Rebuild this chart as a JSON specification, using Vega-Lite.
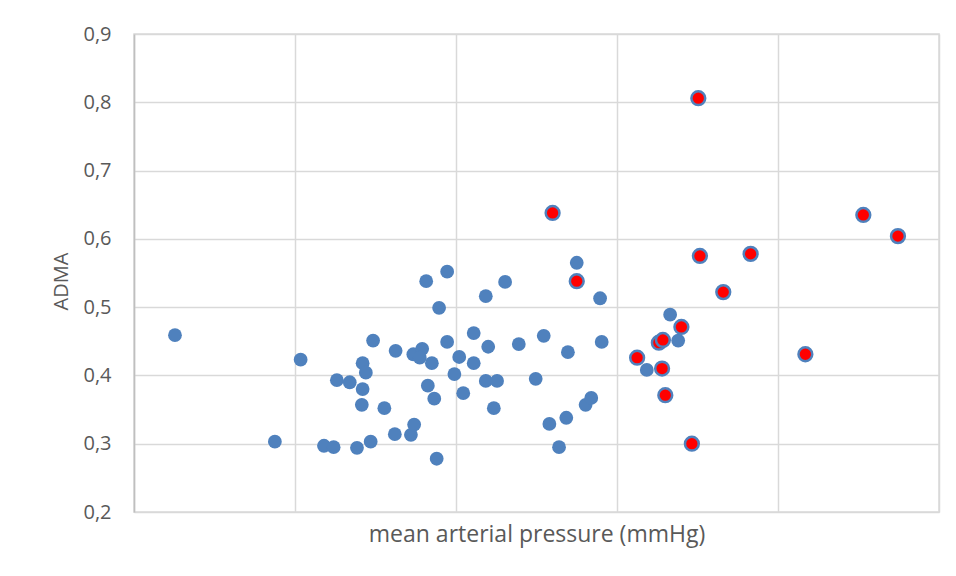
{
  "$schema": "https://vega.github.io/schema/vega-lite/v6.json",
  "autosize": "none",
  "width": 805,
  "height": 478,
  "padding": {"left": 134, "top": 34, "right": 17, "bottom": 64},
  "background": "white",
  "config": {
    "view": {"stroke": "#d9d9d9", "strokeWidth": 1.5},
    "font": "Open Sans",
    "axis": {"labelFont": "Open Sans", "titleFont": "Open Sans", "labelColor": "#595959", "titleColor": "#595959", "titleFontWeight": "normal", "gridColor": "#d9d9d9", "gridWidth": 1.5}
  },
  "data": {"values": [
    {"map": 5.09, "adma": 0.459, "group": "blue"},
    {"map": 17.5, "adma": 0.303, "group": "blue"},
    {"map": 20.7, "adma": 0.423, "group": "blue"},
    {"map": 23.6, "adma": 0.297, "group": "blue"},
    {"map": 24.8, "adma": 0.295, "group": "blue"},
    {"map": 25.2, "adma": 0.393, "group": "blue"},
    {"map": 26.8, "adma": 0.390, "group": "blue"},
    {"map": 27.7, "adma": 0.294, "group": "blue"},
    {"map": 28.3, "adma": 0.357, "group": "blue"},
    {"map": 28.4, "adma": 0.418, "group": "blue"},
    {"map": 28.8, "adma": 0.404, "group": "blue"},
    {"map": 28.4, "adma": 0.380, "group": "blue"},
    {"map": 29.4, "adma": 0.303, "group": "blue"},
    {"map": 29.7, "adma": 0.451, "group": "blue"},
    {"map": 31.1, "adma": 0.352, "group": "blue"},
    {"map": 32.4, "adma": 0.314, "group": "blue"},
    {"map": 32.5, "adma": 0.436, "group": "blue"},
    {"map": 34.4, "adma": 0.313, "group": "blue"},
    {"map": 34.8, "adma": 0.328, "group": "blue"},
    {"map": 34.7, "adma": 0.431, "group": "blue"},
    {"map": 35.8, "adma": 0.439, "group": "blue"},
    {"map": 35.5, "adma": 0.426, "group": "blue"},
    {"map": 36.3, "adma": 0.538, "group": "blue"},
    {"map": 36.5, "adma": 0.385, "group": "blue"},
    {"map": 37.0, "adma": 0.418, "group": "blue"},
    {"map": 37.3, "adma": 0.366, "group": "blue"},
    {"map": 37.6, "adma": 0.278, "group": "blue"},
    {"map": 37.9, "adma": 0.499, "group": "blue"},
    {"map": 38.9, "adma": 0.552, "group": "blue"},
    {"map": 38.9, "adma": 0.449, "group": "blue"},
    {"map": 39.8, "adma": 0.402, "group": "blue"},
    {"map": 40.4, "adma": 0.427, "group": "blue"},
    {"map": 40.9, "adma": 0.374, "group": "blue"},
    {"map": 42.2, "adma": 0.462, "group": "blue"},
    {"map": 42.2, "adma": 0.418, "group": "blue"},
    {"map": 43.7, "adma": 0.516, "group": "blue"},
    {"map": 43.7, "adma": 0.392, "group": "blue"},
    {"map": 44.0, "adma": 0.442, "group": "blue"},
    {"map": 44.7, "adma": 0.352, "group": "blue"},
    {"map": 45.1, "adma": 0.392, "group": "blue"},
    {"map": 46.1, "adma": 0.537, "group": "blue"},
    {"map": 47.8, "adma": 0.446, "group": "blue"},
    {"map": 49.9, "adma": 0.395, "group": "blue"},
    {"map": 50.9, "adma": 0.458, "group": "blue"},
    {"map": 51.6, "adma": 0.329, "group": "blue"},
    {"map": 52.8, "adma": 0.295, "group": "blue"},
    {"map": 53.7, "adma": 0.338, "group": "blue"},
    {"map": 53.9, "adma": 0.434, "group": "blue"},
    {"map": 55.0, "adma": 0.565, "group": "blue"},
    {"map": 56.1, "adma": 0.357, "group": "blue"},
    {"map": 56.8, "adma": 0.367, "group": "blue"},
    {"map": 57.9, "adma": 0.513, "group": "blue"},
    {"map": 58.1, "adma": 0.449, "group": "blue"},
    {"map": 63.7, "adma": 0.408, "group": "blue"},
    {"map": 66.6, "adma": 0.489, "group": "blue"},
    {"map": 67.6, "adma": 0.451, "group": "blue"},
    {"map": 52.0, "adma": 0.638, "group": "red"},
    {"map": 55.0, "adma": 0.538, "group": "red"},
    {"map": 62.5, "adma": 0.426, "group": "red"},
    {"map": 65.2, "adma": 0.448, "group": "red"},
    {"map": 65.7, "adma": 0.452, "group": "red"},
    {"map": 65.6, "adma": 0.410, "group": "red"},
    {"map": 66.0, "adma": 0.371, "group": "red"},
    {"map": 68.0, "adma": 0.471, "group": "red"},
    {"map": 69.3, "adma": 0.300, "group": "red"},
    {"map": 70.1, "adma": 0.806, "group": "red"},
    {"map": 70.3, "adma": 0.575, "group": "red"},
    {"map": 73.2, "adma": 0.522, "group": "red"},
    {"map": 76.6, "adma": 0.578, "group": "red"},
    {"map": 83.4, "adma": 0.431, "group": "red"},
    {"map": 90.6, "adma": 0.635, "group": "red"},
    {"map": 94.9, "adma": 0.604, "group": "red"}
  ]},
  "mark": {"type": "point", "filled": true, "opacity": 1, "size": 190},
  "encoding": {
    "x": {
      "field": "map", "type": "quantitative",
      "scale": {"domain": [0, 100], "nice": false, "zero": false},
      "axis": {"values": [0, 20, 40, 60, 80, 100], "labels": false, "ticks": false, "domain": false,
               "title": "mean arterial pressure (mmHg)", "titleFontSize": 23, "titlePadding": 11}
    },
    "y": {
      "field": "adma", "type": "quantitative",
      "scale": {"domain": [0.2, 0.9], "nice": false, "zero": false},
      "axis": {"values": [0.2, 0.3, 0.4, 0.5, 0.6, 0.7, 0.8, 0.9], "labelExpr": "replace(format(datum.value, '.1f'), '.', ',')",
               "ticks": false, "domainColor": "#bfbfbf", "domainWidth": 1.5, "labelFontSize": 20, "labelPadding": 23,
               "title": "ADMA", "titleFontSize": 20, "titlePadding": 11, "titleY": 247}
    },
    "color": {"field": "group", "type": "nominal", "scale": {"domain": ["blue", "red"], "range": ["#4f81bd", "#ff0000"]}, "legend": null},
    "stroke": {"field": "group", "type": "nominal", "scale": {"domain": ["blue", "red"], "range": ["#4f81bd", "#4f81bd"]}, "legend": null},
    "strokeWidth": {"field": "group", "type": "nominal", "scale": {"domain": ["blue", "red"], "range": [0, 2.5]}, "legend": null},
    "order": {"field": "group", "type": "nominal"}
  }
}
